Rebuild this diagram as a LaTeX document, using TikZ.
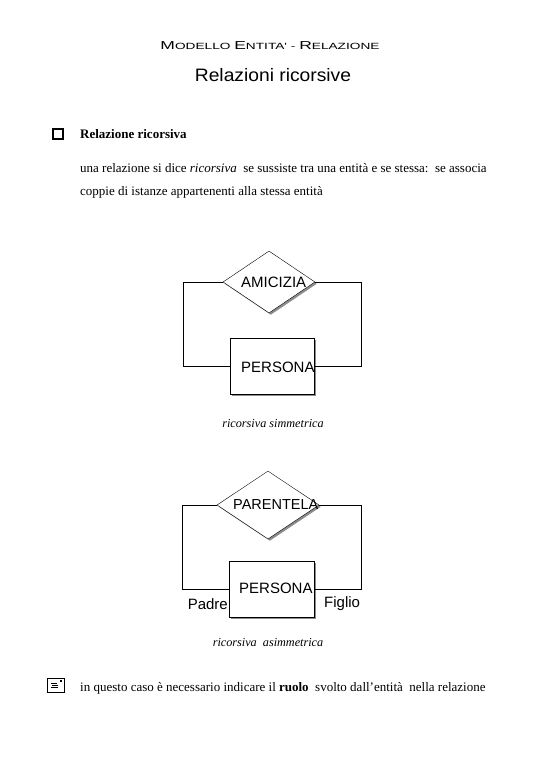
\documentclass[tikz,border=0pt]{standalone}
\usepackage{fontspec}
\usepackage{graphicx}
\setmainfont{Liberation Serif}
\newfontfamily\arialf{Liberation Sans}
\usetikzlibrary{shapes.geometric,shadows}
\tikzset{
  x=1pt,y=-1pt,
  relbox/.style={diamond,draw,fill=white,inner sep=0pt,
    drop shadow={shadow xshift=1.8pt,shadow yshift=-1.8pt,fill=black!45,opacity=1}},
  entbox/.style={rectangle,draw,fill=white,inner sep=0pt,
    drop shadow={shadow xshift=1.8pt,shadow yshift=-1.8pt,fill=black!45,opacity=1}},
  ertext/.style={font=\arialf\fontsize{15}{18}\selectfont,inner sep=0pt,anchor=west},
  roletext/.style={font=\arialf\fontsize{15}{18}\selectfont,inner sep=0pt},
  body/.style={font=\fontsize{13}{15}\selectfont,inner sep=0pt,anchor=west},
  capt/.style={font=\itshape\fontsize{12.2}{14}\selectfont,inner sep=0pt},
  conn/.style={draw,line width=0.6pt}
}
\begin{document}
\begin{tikzpicture}
\useasboundingbox (0,0) rectangle (540,780);
% titles
\node[inner sep=0pt] (t1) at (270,46) {\scalebox{1.52}[1]{\arialf\fontsize{11.5}{13}\selectfont M\fontsize{9}{10}\selectfont ODELLO \fontsize{11.5}{13}\selectfont E\fontsize{9}{10}\selectfont NTITA' - \fontsize{11.5}{13}\selectfont R\fontsize{9}{10}\selectfont ELAZIONE}};
\node[inner sep=0pt] (t2) at (273,75) {\scalebox{1.07}[1]{\arialf\fontsize{18}{21}\selectfont Relazioni ricorsive}};
% heading
\node[draw,line width=1.2pt,minimum width=10pt,minimum height=10pt,inner sep=0pt] (chk) at (58,134) {};
\node[inner sep=0pt,anchor=west] (h1) at (80,134) {\bfseries\fontsize{13}{15}\selectfont Relazione ricorsiva};
\node[body] (b1) at (80,168) {una relazione si dice \textit{ricorsiva}\ \ se sussiste tra una entità e se stessa:\ \ se associa};
\node[body] (b2) at (80,192) {coppie di istanze appartenenti alla stessa entità};
% diagram 1
\node[relbox,minimum width=92pt,minimum height=62pt] (r1) at (269,282) {};
\node[ertext] (r1t) at (241,282) {AMICIZIA};
\node[entbox,minimum width=84pt,minimum height=56pt] (e1) at (272,366) {};
\node[ertext] (e1t) at (241,367) {PERSONA};
\draw[conn] (r1.west) -- ++(-40,0) coordinate (c1) |- (e1.west);
\draw[conn] (r1.east) -- ++(46,0) coordinate (c2) |- (e1.east);
\node[capt] (cap1) at (273,424) {ricorsiva simmetrica};
% diagram 2
\node[relbox,minimum width=102pt,minimum height=68pt] (r2) at (268,505) {};
\node[ertext,font=\arialf\fontsize{14.5}{18}\selectfont] (r2t) at (233,505) {PARENTELA};
\node[entbox,minimum width=85pt,minimum height=56pt] (e2) at (271.5,589) {};
\node[ertext] (e2t) at (239,588) {PERSONA};
\draw[conn] (r2.west) -- ++(-35,0) coordinate (c3) |- (e2.west);
\draw[conn] (r2.east) -- ++(42,0) coordinate (c4) |- (e2.east);
\node[roletext,anchor=east] (pad) at (228,604) {Padre};
\node[roletext,anchor=west] (fig) at (324,604) {Figlio};
\node[capt] (cap2) at (268,643) {ricorsiva\ \ asimmetrica};
% note
\node[draw,line width=0.8pt,minimum width=17pt,minimum height=14pt,inner sep=0pt] (note) at (55.5,685) {};
\draw[line width=0.6pt] (51,683) -- (57,683) (52,685) -- (58,685) (51,687) -- (58,687);
\fill (60,680) rectangle (61.5,681.5);
\node[body] (n1) at (80,688) {in questo caso è necessario indicare il \textbf{ruolo}\ \ svolto dall'entità\ \ nella relazione};
\end{tikzpicture}
\end{document}
